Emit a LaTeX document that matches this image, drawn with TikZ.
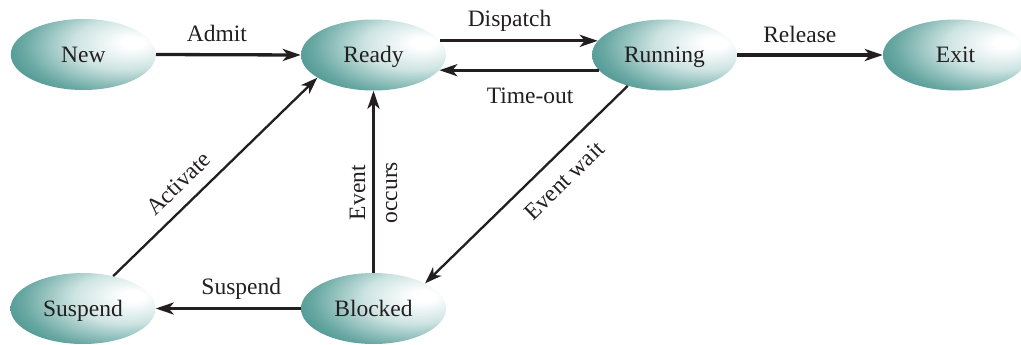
\documentclass[tikz,border=0pt]{standalone}
\usepackage{fontspec}
\setmainfont{Liberation Serif}
\usetikzlibrary{arrows.meta,shapes.geometric}
\definecolor{ink}{RGB}{35,31,32}
\definecolor{tealdark}{RGB}{36,126,120}
\definecolor{tealmid}{RGB}{105,168,163}
\definecolor{teallight}{RGB}{205,228,226}
\pgfdeclareradialshading{stateshade}{\pgfpoint{18bp}{9bp}}{%
  color(0bp)=(white); color(4bp)=(white); color(18bp)=(teallight);
  color(33bp)=(tealmid); color(48bp)=(tealdark); color(100bp)=(tealdark)}
\begin{document}
\begin{tikzpicture}[x=1pt,y=1pt,
  state/.style={ellipse, minimum width=145pt, minimum height=71pt, inner sep=0pt,
    shade, shading=stateshade, text height=15.7pt, text depth=0pt,
    font=\fontsize{23.5}{28}\selectfont, text=ink},
  lbl/.style={inner sep=0pt, text height=16pt, text depth=0pt,
    font=\fontsize{23.5}{28}\selectfont, text=ink},
  thickarrow/.style={draw=ink, line width=3.3pt,
    -{Stealth[length=18pt,width=12pt,inset=5pt]}},
  thinarrow/.style={draw=ink, line width=2.3pt,
    -{Stealth[length=17pt,width=12pt,inset=5pt]}}]
\useasboundingbox (0,0) rectangle (1021,-345);

\node[state] (new)      at (83.3,-54.5)  {New};
\node[state] (ready)    at (373.5,-55)   {Ready};
\node[state] (running)  at (664.5,-55)   {Running};
\node[state] (exit)     at (955.5,-55)   {Exit};
\node[state] (suspend)  at (83,-308.5)   {Suspend};
\node[state] (blocked)  at (373.5,-308.5){Blocked};

\draw[thickarrow] (new.east) -- (ready.west)
  node[lbl, pos=0.42, above=12pt] {Admit};
\draw[thickarrow] (ready.12) -- (running.168)
  node[lbl, pos=0.44, above=13pt] {Dispatch};
\draw[thickarrow] (running.193) -- (ready.-13)
  node[lbl, pos=0.43, below=16pt] {Time-out};
\draw[thickarrow] (running.east) -- (exit.west)
  node[lbl, pos=0.43, above=11pt] {Release};
\draw[thickarrow] (blocked.west) -- (suspend.east)
  node[lbl, pos=0.41, above=12pt] {Suspend};
\draw[thickarrow] (blocked.north) -- (ready.south)
  node[pos=0.44, rotate=90, align=center, inner sep=0pt, text=ink,
    font=\fontsize{23.5}{28}\selectfont] {Event\\[4pt]occurs};
\draw[thinarrow] (suspend.47) -- (ready.202)
  node[lbl, pos=0.39, sloped, above=12pt] {Activate};
\draw[thinarrow] (running.220) -- (blocked.26)
  node[lbl, pos=0.395, sloped, below=14pt] {Event wait};
\end{tikzpicture}
\end{document}
